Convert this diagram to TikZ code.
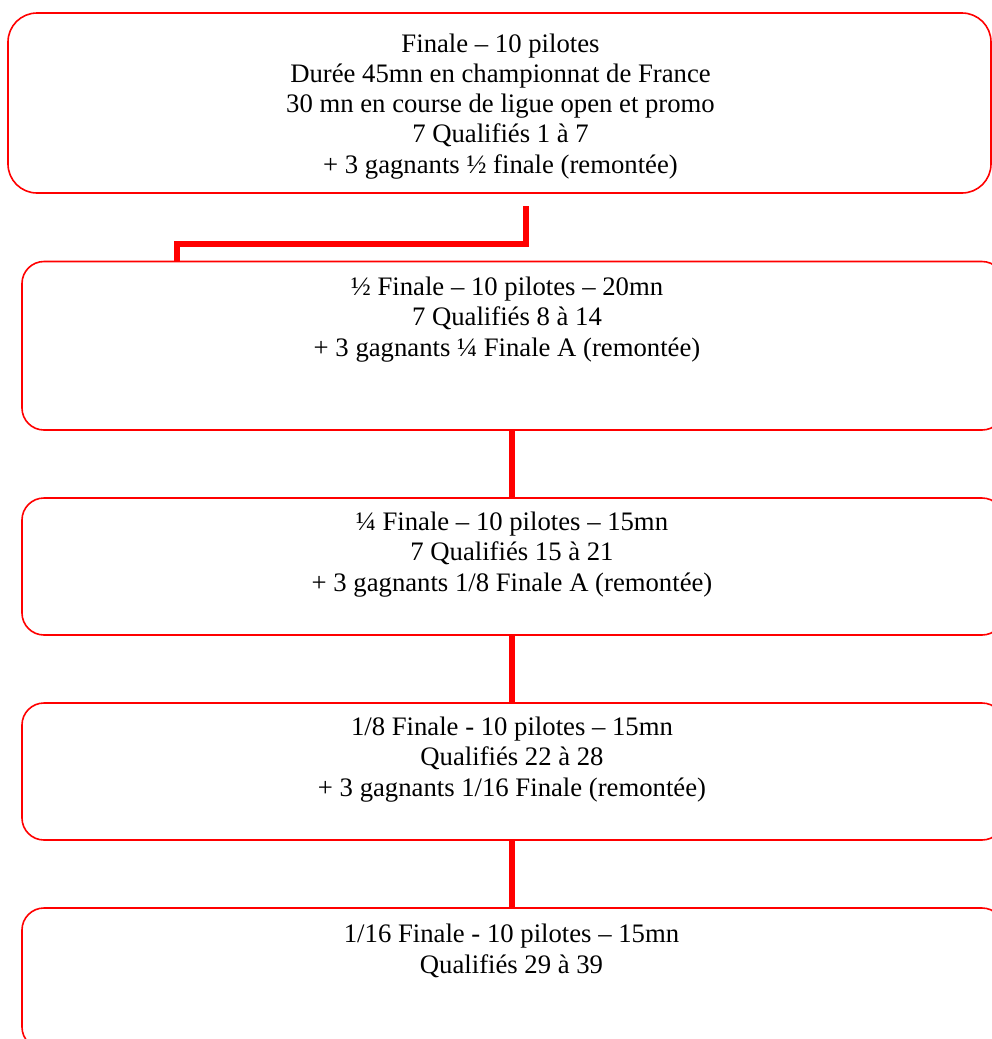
\documentclass[tikz,border=0pt]{standalone}
\usepackage{fontspec}
\setmainfont{Liberation Serif}
\begin{document}
\begin{tikzpicture}[x=1pt,y=-1pt,
  box/.style={draw=red, line width=1.6pt, rectangle, inner sep=0pt, outer sep=0pt, rounded corners=22pt},
  txt/.style={align=center, anchor=base, inner sep=0pt, font=\fontsize{26.7}{30.2}\selectfont},
  conn/.style={draw=red, line width=6pt}]
\clip (0,0) rectangle (992,1039);
\fill[white] (0,0) rectangle (992,1039);
% boxes
\node[box, rounded corners=29pt, minimum width=983pt, minimum height=180pt] (b1) at (499.5,103) {};
\node[box, minimum width=982pt, minimum height=168.5pt] (b2) at (513,345.75) {};
\node[box, minimum width=982pt, minimum height=137pt] (b3) at (513,566.5) {};
\node[box, minimum width=982pt, minimum height=137pt] (b4) at (513,771.5) {};
\node[box, minimum width=982pt, minimum height=141pt] (b5) at (513,978.5) {};
% texts (base = baseline of the last line)
\node[txt] (t1) at (500.5,173) {Finale – 10 pilotes\\Durée 45mn en championnat de France\\30 mn en course de ligue open et promo\\7 Qualifiés 1 à 7\\+ 3 gagnants ½ finale (remontée)};
\node[txt] (t2) at (507,356) {½ Finale – 10 pilotes – 20mn\\7 Qualifiés 8 à 14\\+ 3 gagnants ¼ Finale A (remontée)};
\node[txt] (t3) at (512,591) {¼ Finale – 10 pilotes – 15mn\\7 Qualifiés 15 à 21\\+ 3 gagnants 1/8 Finale A (remontée)};
\node[txt] (t4) at (512,796) {1/8 Finale - 10 pilotes – 15mn\\Qualifiés 22 à 28\\+ 3 gagnants 1/16 Finale (remontée)};
\node[txt] (t5) at (511.5,973) {1/16 Finale - 10 pilotes – 15mn\\Qualifiés 29 à 39};
% connectors
\coordinate (c1) at (526,206);
\coordinate (k1) at (176.5,244);
\coordinate (mid) at (512,0);
\draw[conn] (c1) |- (k1) -- (k1 |- b2.north);
\draw[conn] (b2.south -| mid) -- (b3.north -| mid);
\draw[conn] (b3.south -| mid) -- (b4.north -| mid);
\draw[conn] (b4.south -| mid) -- (b5.north -| mid);
\end{tikzpicture}
\end{document}
